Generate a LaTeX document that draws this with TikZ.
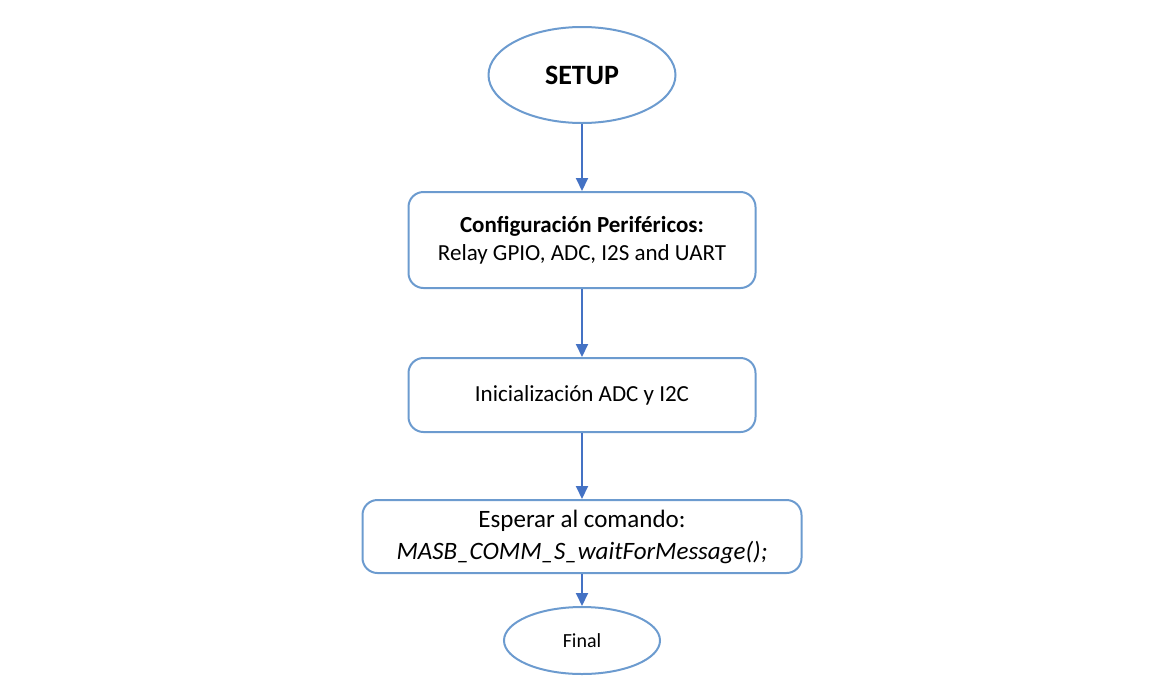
\documentclass[tikz,border=0pt]{standalone}
\usepackage{fontspec}
\setmainfont{Carlito}
\usepackage{tikz}
\usetikzlibrary{arrows.meta,shapes.geometric,positioning}
\definecolor{edgeblue}{RGB}{108,155,207}
\definecolor{arrowblue}{RGB}{68,114,196}

\begin{document}
\begin{tikzpicture}[x=1pt,y=1pt]
\tikzstyle{terminal}=[ellipse,draw=edgeblue,line width=2pt,inner sep=0pt]
\tikzstyle{process}=[rectangle,rounded corners=15pt,draw=edgeblue,line width=2pt,align=center,inner sep=0pt]
\tikzstyle{flow}=[-{Triangle[length=13pt,width=12pt]},draw=arrowblue,fill=arrowblue,line width=2pt]
\useasboundingbox (0,0) rectangle (1165,-694);
\node[terminal,minimum width=187pt,minimum height=96pt,font=\bfseries\fontsize{28}{32}\selectfont] (setup) at (582,-75) {SETUP};
\node[process,minimum width=347pt,minimum height=96pt,below=67pt of setup,font=\fontsize{23}{28}\selectfont] (config) {\textbf{Configuración Periféricos:}\\Relay GPIO, ADC, I2S and UART};
\node[process,minimum width=347pt,minimum height=74pt,below=68pt of config,font=\fontsize{23}{28}\selectfont] (init) {Inicialización ADC y I2C};
\node[process,minimum width=439pt,minimum height=73pt,below=66pt of init,font=\fontsize{25}{32}\selectfont] (wait) {Esperar al comando:\\\textit{MASB\_COMM\_S\_waitForMessage();}};
\node[terminal,minimum width=156pt,minimum height=67pt,below=32pt of wait,font=\fontsize{20}{24}\selectfont] (final) {Final};
\draw[flow] (setup) -- (config);
\draw[flow] (config) -- (init);
\draw[flow] (init) -- (wait);
\draw[flow] (wait) -- (final);
\end{tikzpicture}
\end{document}
